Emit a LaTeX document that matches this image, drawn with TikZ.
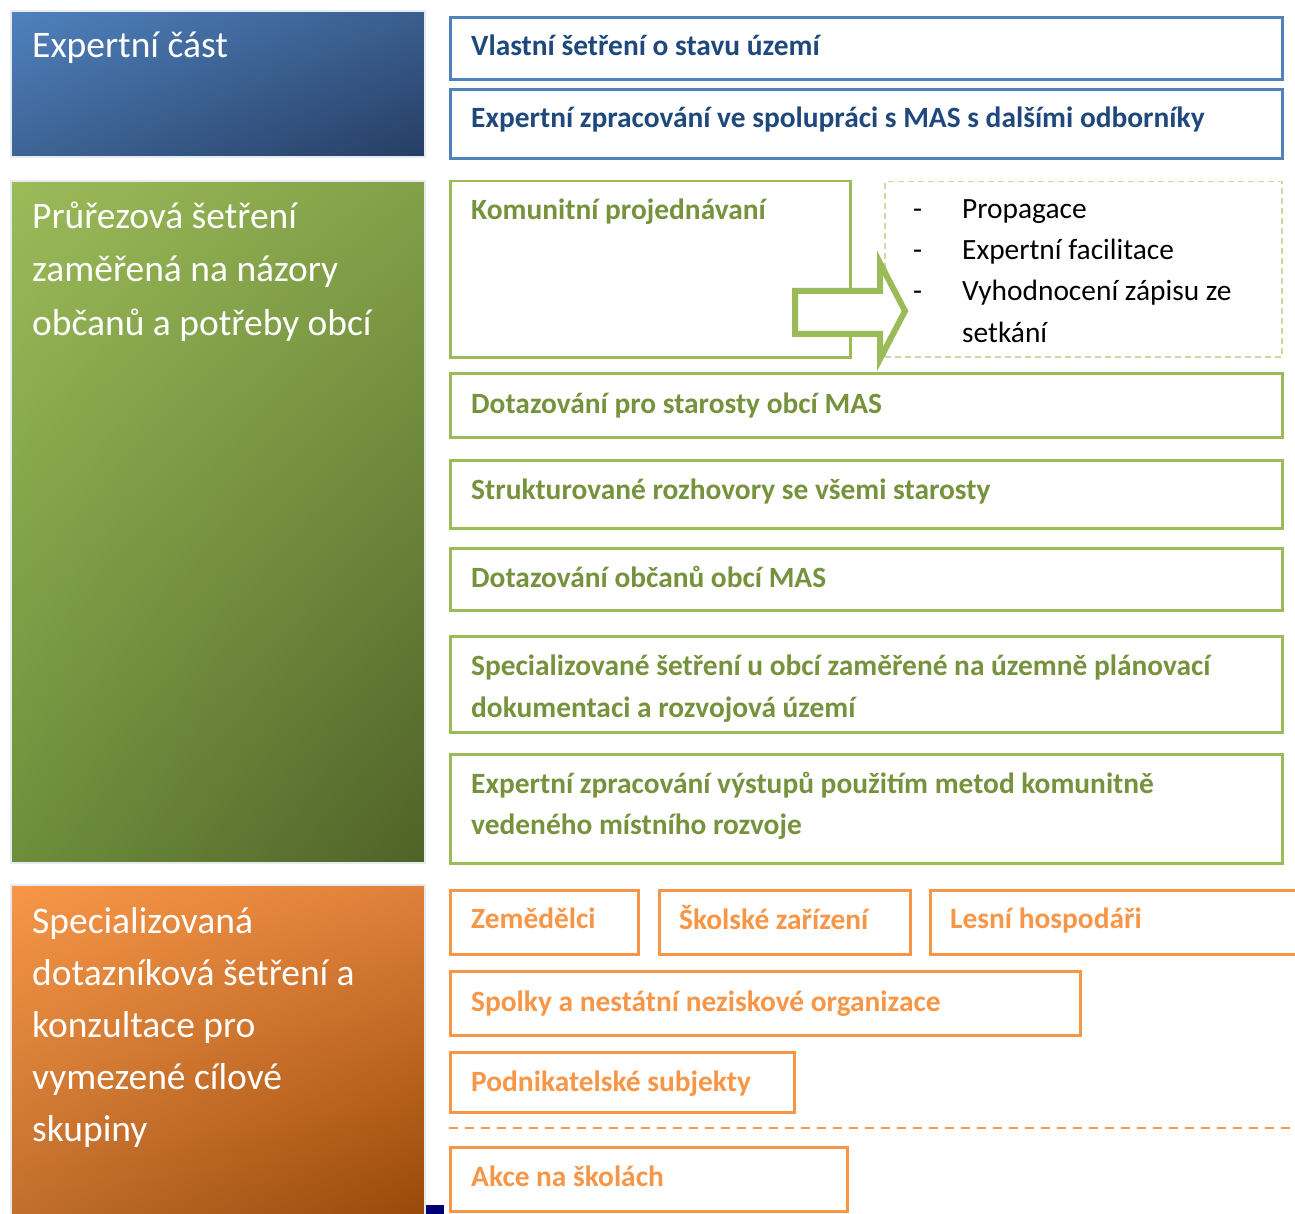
\documentclass[tikz,border=0pt]{standalone}
\usepackage{fontspec}
\setmainfont{Carlito}
\usetikzlibrary{shadings}
\definecolor{bblue}{HTML}{4F81BD}
\definecolor{tblue}{HTML}{1F497D}
\definecolor{bgreen}{HTML}{9BBB59}
\definecolor{tgreen}{HTML}{76923C}
\definecolor{lgreen}{HTML}{C9DAA5}
\definecolor{borange}{HTML}{F79646}
\definecolor{torange}{HTML}{F79646}
\definecolor{frame}{HTML}{E6EBF0}
\definecolor{buL}{RGB}{79,129,189}
\definecolor{buR}{RGB}{58,94,142}
\definecolor{blL}{RGB}{62,100,150}
\definecolor{blR}{RGB}{38,62,100}
\definecolor{guL}{RGB}{155,187,89}
\definecolor{guR}{RGB}{130,160,72}
\definecolor{glL}{RGB}{110,142,60}
\definecolor{glR}{RGB}{79,98,40}
\definecolor{ouL}{RGB}{247,150,70}
\definecolor{ouR}{RGB}{222,128,58}
\definecolor{olL}{RGB}{192,110,45}
\definecolor{olR}{RGB}{152,72,7}
\begin{document}
\begin{tikzpicture}[x=1pt,y=-1pt,
  panel/.style={draw=frame, line width=2pt},
  ptext/.style={anchor=base west, text=white, font=\fontsize{37.5}{52}\selectfont, inner sep=0pt},
  bbox/.style={draw=bblue, line width=3pt, anchor=north west, inner sep=0pt},
  gbox/.style={draw=bgreen, line width=2.5pt, anchor=north west, inner sep=0pt},
  obox/.style={draw=borange, line width=2.5pt, anchor=north west, inner sep=0pt},
  btext/.style={anchor=base west, text=tblue, font=\fontsize{29.4}{34}\selectfont\bfseries, inner sep=0pt},
  gtext/.style={anchor=base west, text=tgreen, font=\fontsize{29.4}{34}\selectfont\bfseries, inner sep=0pt},
  otext/.style={anchor=base west, text=torange, font=\fontsize{29.4}{34}\selectfont\bfseries, inner sep=0pt},
  ltext/.style={anchor=base west, text=black, font=\fontsize{29.4}{34}\selectfont, inner sep=0pt}]
\useasboundingbox (0,0) rectangle (1295,1214);
\fill[white] (0,0) rectangle (1295,1214);
% left panels
\shade[upper left=buL, upper right=buR, lower left=blL, lower right=blR] (12,12) rectangle (424,156);
\draw[panel] (11,11) rectangle (425,157);
\node[ptext] (pexp) at (32,58) {Expertní část};
\shade[upper left=guL, upper right=guR, lower left=glL, lower right=glR] (12,182) rectangle (424,862);
\draw[panel] (11,181) rectangle (425,863);
\node[ptext] (pg1) at (32,229) {Průřezová šetření};
\node[ptext] (pg2) at (32,282) {zaměřená na názory};
\node[ptext] (pg3) at (32,335) {občanů a potřeby obcí};
\shade[upper left=ouL, upper right=ouR, lower left=olL, lower right=olR] (12,886) rectangle (424,1220);
\draw[panel] (11,885) rectangle (425,1222);
\node[ptext] (po1) at (32,933) {Specializovaná};
\node[ptext] (po2) at (32,985) {dotazníková šetření a};
\node[ptext] (po3) at (32,1037) {konzultace pro};
\node[ptext] (po4) at (32,1089) {vymezené cílové};
\node[ptext] (po5) at (32,1141) {skupiny};
\fill[blue!45!black] (426,1205) rectangle (444,1214);
% blue boxes
\node[bbox, minimum width=832pt, minimum height=62pt] (b1) at (449,16) {};
\node[btext] (tb1) at (471,56) {Vlastní šetření o stavu území};
\node[bbox, minimum width=832pt, minimum height=69pt] (b2) at (449,88) {};
\node[btext] (tb2) at (471,128) {Expertní zpracování ve spolupráci s MAS s dalšími odborníky};
% green boxes
\node[gbox, minimum width=400pt, minimum height=176pt] (g0) at (449,180) {};
\node[gtext] (tg0) at (471,220) {Komunitní projednávaní};
\node[draw=lgreen, line width=1.5pt, dash pattern=on 6pt off 4pt, anchor=north west, inner sep=0pt,
      minimum width=397pt, minimum height=175pt] (gd) at (884,181) {};
\node[ltext] (d1) at (913,219) {-};
\node[ltext] (l1) at (962,219) {Propagace};
\node[ltext] (d2) at (913,260) {-};
\node[ltext] (l2) at (962,260) {Expertní facilitace};
\node[ltext] (d3) at (913,301) {-};
\node[ltext] (l3) at (962,301) {Vyhodnocení zápisu ze};
\node[ltext] (l4) at (962,343) {setkání};
\draw[bgreen, fill=white, line width=6pt, line join=miter]
  (795,291) -- (880,291) -- (880,263) -- (905,311) -- (880,359) -- (880,334) -- (795,334) -- cycle;
\node[gbox, minimum width=832pt, minimum height=64pt] (g1) at (449,372) {};
\node[gtext] (tg1) at (471,413) {Dotazování pro starosty obcí MAS};
\node[gbox, minimum width=832pt, minimum height=68pt] (g2) at (449,459) {};
\node[gtext] (tg2) at (471,499) {Strukturované rozhovory se všemi starosty};
\node[gbox, minimum width=832pt, minimum height=62pt] (g3) at (449,547) {};
\node[gtext] (tg3) at (471,587) {Dotazování občanů obcí MAS};
\node[gbox, minimum width=832pt, minimum height=96pt] (g4) at (449,635) {};
\node[gtext] (tg4a) at (471,675) {Specializované šetření u obcí zaměřené na územně plánovací};
\node[gtext] (tg4b) at (471,717) {dokumentaci a rozvojová území};
\node[gbox, minimum width=832pt, minimum height=109pt] (g5) at (449,753) {};
\node[gtext] (tg5a) at (471,793) {Expertní zpracování výstupů použitím metod komunitně};
\node[gtext] (tg5b) at (471,834) {vedeného místního rozvoje};
% orange boxes
\node[obox, minimum width=188pt, minimum height=64pt] (o1) at (449,889) {};
\node[otext] (to1) at (471,928) {Zemědělci};
\node[obox, minimum width=251pt, minimum height=64pt] (o2) at (658,889) {};
\node[otext] (to2) at (679,929) {Školské zařízení};
\node[obox, minimum width=380pt, minimum height=64pt] (o3) at (929,889) {};
\node[otext] (to3) at (950,928) {Lesní hospodáři};
\node[obox, minimum width=630pt, minimum height=64pt] (o4) at (449,970) {};
\node[otext] (to4) at (471,1011) {Spolky a nestátní neziskové organizace};
\node[obox, minimum width=344pt, minimum height=60pt] (o5) at (449,1051) {};
\node[otext] (to5) at (471,1091) {Podnikatelské subjekty};
\coordinate (dl) at (449,1128);
\coordinate (dr) at (1300,1128);
\draw[borange, line width=2.5pt, dash pattern=on 9pt off 7pt] (dl) -- (dr);
\node[obox, minimum width=397pt, minimum height=64pt] (o6) at (449,1146) {};
\node[otext] (to6) at (471,1186) {Akce na školách};
\end{tikzpicture}
\end{document}
